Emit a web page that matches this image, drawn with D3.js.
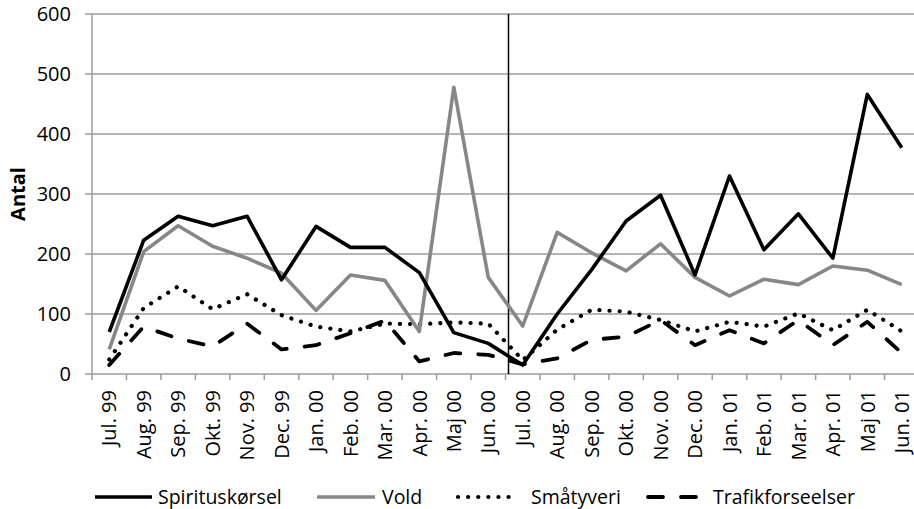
<!DOCTYPE html>
<html>
<head>
<meta charset="utf-8">
<script src="https://cdn.jsdelivr.net/npm/d3@7"></script>
<style>
  html, body { margin: 0; padding: 0; background: #fff; }
  svg { display: block; font-family: "Open Sans", sans-serif; }
</style>
</head>
<body>
<svg id="chart" width="914" height="509"></svg>
<script>
const categories = ["Jul. 99","Aug. 99","Sep. 99","Okt. 99","Nov. 99","Dec. 99","Jan. 00","Feb. 00","Mar. 00","Apr. 00","Maj 00","Jun. 00",
                    "Jul. 00","Aug. 00","Sep. 00","Okt. 00","Nov. 00","Dec. 00","Jan. 01","Feb. 01","Mar. 01","Apr. 01","Maj 01","Jun. 01"];
const spirituskorsel = [70,223,263,247,263,157,246,211,211,169,69,51, 15,100,174,255,298,165,330,207,267,193,466,377];
const vold           = [41,204,247,213,193,168,106,165,156,71,478,161, 80,236,202,172,217,161,130,158,149,180,173,149];
const smatyveri      = [24,110,146,108,133,98,79,71,84,83,86,84, 23,74,107,104,90,71,87,79,101,73,107,71];
const trafik         = [15,79,59,46,84,41,48,68,89,21,35,32, 16,26,57,62,90,48,73,51,90,48,87,35];
const yTicks = [0,100,200,300,400,500,600];
const seriesNames = ["Spirituskørsel","Vold","Småtyveri","Trafikforseelser"];
const splitAfter = "Jun. 00";

const svg = d3.select("#chart");
const mLeft = 92, mRight = 919, mTop = 14, mBottom = 374;

const x = d3.scaleBand().domain(categories).range([mLeft, mRight]).padding(0);
const y = d3.scaleLinear().domain([0, 600]).range([mBottom, mTop]);

// gridlines
svg.append("g").selectAll("line").data(yTicks).join("line")
  .attr("x1", mLeft - 7).attr("x2", mRight)
  .attr("y1", d => y(d)).attr("y2", d => y(d))
  .attr("stroke", "#9c9c9c").attr("stroke-width", 1.5);

// y axis line
svg.append("line").attr("x1", mLeft).attr("x2", mLeft).attr("y1", mTop).attr("y2", mBottom)
  .attr("stroke", "#9c9c9c").attr("stroke-width", 1.5);

// y tick labels
svg.append("g").selectAll("text").data(yTicks).join("text")
  .attr("x", 71).attr("y", d => y(d)).attr("dy", "0.36em")
  .attr("text-anchor", "end").attr("font-size", 20).attr("fill", "#000")
  .text(d => d);

// x ticks at band boundaries
const boundaries = categories.map(c => x(c));
svg.append("g").selectAll("line").data(boundaries).join("line")
  .attr("x1", d => d).attr("x2", d => d).attr("y1", mBottom).attr("y2", mBottom + 6)
  .attr("stroke", "#9c9c9c").attr("stroke-width", 1.5);

// x labels
svg.append("g").selectAll("text").data(categories).join("text")
  .attr("transform", d => `translate(${x(d) + x.bandwidth() / 2},390) rotate(-90)`)
  .attr("dy", "0.36em").attr("text-anchor", "end").attr("font-size", 20).attr("fill", "#000")
  .text(d => d);

// axis title
svg.append("text").attr("transform", "translate(18,194) rotate(-90)")
  .attr("dy", "0.36em").attr("text-anchor", "middle").attr("font-size", 20)
  .attr("font-weight", "bold").text("Antal");

// split line
const splitX = x(splitAfter) + x.bandwidth() + 3;
svg.append("line").attr("x1", splitX).attr("x2", splitX).attr("y1", mTop).attr("y2", mBottom)
  .attr("stroke", "#000").attr("stroke-width", 1.5);

const styles = [
  { data: spirituskorsel, color: "#000", dash: null, cap: "butt", w: 3.6 },
  { data: vold, color: "#878787", dash: null, cap: "butt", w: 3.6 },
  { data: smatyveri, color: "#000", dash: "0.1,10", cap: "round", w: 4.2 },
  { data: trafik, color: "#000", dash: "15,18", cap: "round", w: 3.8 }
];

const line = d3.line()
  .x((d, i) => x(categories[i]) + x.bandwidth() / 2)
  .y(d => y(d));

// draw order: trafik, småtyveri, vold, spirituskørsel
[3, 2, 1, 0].forEach(k => {
  const s = styles[k];
  svg.append("path").datum(s.data)
    .attr("d", line).attr("fill", "none")
    .attr("stroke", s.color).attr("stroke-width", s.w)
    .attr("stroke-linejoin", "round").attr("stroke-linecap", s.cap)
    .attr("stroke-dasharray", s.dash);
});

// legend
const legendY = 497;
const legendItems = [
  { x1: 95, x2: 152, tx: 158 },
  { x1: 317, x2: 375, tx: 382 },
  { x1: 458, x2: 514, tx: 531 },
  { x1: 648, x2: 700, tx: 713 }
];
legendItems.forEach((it, k) => {
  const s = styles[k];
  svg.append("line").attr("x1", it.x1).attr("x2", it.x2).attr("y1", legendY).attr("y2", legendY)
    .attr("stroke", s.color).attr("stroke-width", s.w)
    .attr("stroke-linecap", s.cap).attr("stroke-dasharray", s.dash);
  svg.append("text").attr("x", it.tx).attr("y", legendY).attr("dy", "0.36em")
    .attr("font-size", 19.5).attr("fill", "#000").text(seriesNames[k]);
});
</script>
</body>
</html>
